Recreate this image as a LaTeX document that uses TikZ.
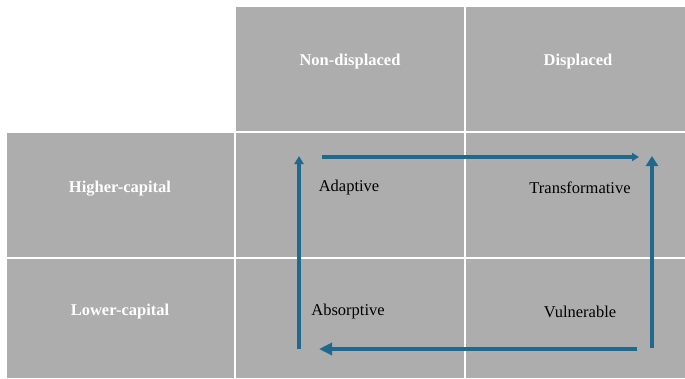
\documentclass[tikz,border=0pt]{standalone}
\usepackage{fontspec}
\setmainfont{Liberation Serif}
\usetikzlibrary{arrows.meta}

\definecolor{cellgray}{HTML}{ADADAD}
\definecolor{cyclecol}{HTML}{1F6A8C}

\tikzset{
    cell/.style={fill=cellgray, inner sep=0pt, anchor=north west},
    headtext/.style={text=white, font=\fontsize{16.5}{19}\selectfont\bfseries},
    quadtext/.style={text=black, font=\fontsize{16.5}{19}\selectfont},
    cyc/.style={draw=cyclecol, line width=3.2pt},
}

\begin{document}
\begin{tikzpicture}[x=1pt, y=-1pt] % pixel grid, y downwards
        \useasboundingbox (0,0) rectangle (685,378);
        
        % grid of grey cells, white gaps between them
        \node[cell, minimum width=228pt, minimum height=124pt] (nd) at (236,7) {};
        \node[cell, minimum width=219pt, minimum height=124pt] (dp) at (466,7) {};
        \node[cell, minimum width=227pt, minimum height=124pt] (hi) at (7,133) {};
        \node[cell, minimum width=227pt, minimum height=119pt] (lo) at (7,259) {};
        \node[cell, minimum width=228pt, minimum height=124pt] (hind) at (236,133) {};
        \node[cell, minimum width=219pt, minimum height=124pt] (hidp) at (466,133) {};
        \node[cell, minimum width=228pt, minimum height=119pt] (lond) at (236,259) {};
        \node[cell, minimum width=219pt, minimum height=119pt] (lodp) at (466,259) {};
        
        % headers
        \node[headtext] (ndtext) at (350,62) {Non-displaced};
        \node[headtext] (dptext) at (578,62) {Displaced};
        \node[headtext] (hitext) at (120,189) {Higher-capital};
        \node[headtext] (lotext) at (120,312) {Lower-capital};
        
        % quadrants
        \node[quadtext] (adapt) at (349,188) {Adaptive};
        \node[quadtext] (transf) at (580,188) {Transformative};
        \node[quadtext] (absorb) at (348,312) {Absorptive};
        \node[quadtext] (vuln) at (580,312) {Vulnerable};
        
        % ends of the cycle
        \coordinate (lb) at (299,349);
        \coordinate (lt) at (299,156);
        \coordinate (tl) at (322,157);
        \coordinate (tr) at (639,157);
        \coordinate (rb) at (652,348);
        \coordinate (rt) at (652,156);
        \coordinate (br) at (637,349);
        \coordinate (bl) at (319,349);
        
        \draw[cyc, -{Triangle[length=8pt, width=9pt]}] (lb) -- (lt);
        \draw[cyc, -{Triangle[length=7pt, width=8pt]}] (tl) -- (tr);
        \draw[cyc, -{Triangle[length=10pt, width=12pt]}] (rb) -- (rt);
        \draw[cyc, -{Triangle[length=13pt, width=12pt]}] (br) -- (bl);
        
    \end{tikzpicture}
\end{document}
